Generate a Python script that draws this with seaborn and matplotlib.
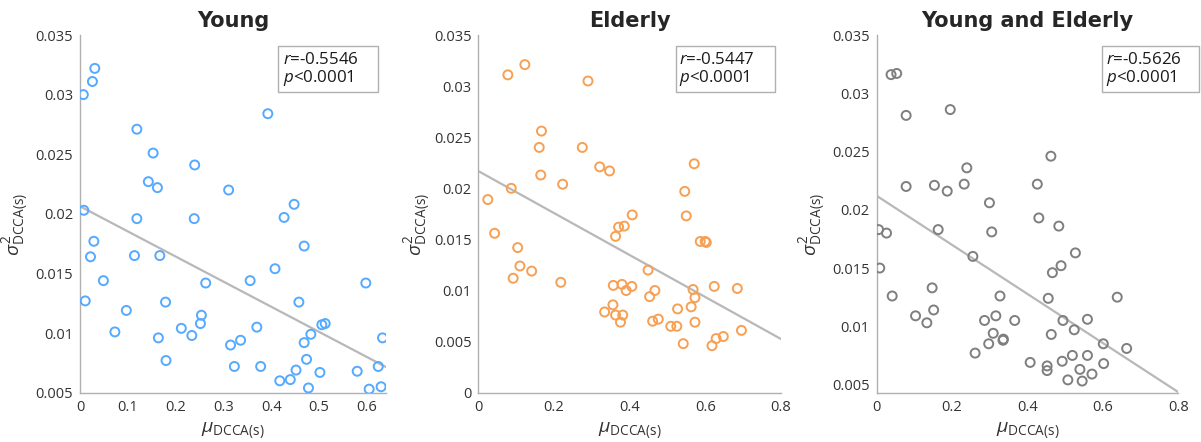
import numpy as np
import pandas as pd
import seaborn as sns
import matplotlib
matplotlib.use('Agg')
import matplotlib.pyplot as plt
from matplotlib.patches import Rectangle

# Values
young_mu = [0.007, 0.026, 0.031, 0.119, 0.153, 0.143, 0.162, 0.240, 0.311, 0.393,
            0.448, 0.008, 0.119, 0.239, 0.427, 0.029, 0.022, 0.114, 0.167, 0.469,
            0.049, 0.408, 0.356, 0.263, 0.598, 0.011, 0.179, 0.458, 0.097, 0.254,
            0.252, 0.212, 0.370, 0.506, 0.513, 0.073, 0.234, 0.164, 0.483, 0.633,
            0.315, 0.336, 0.469, 0.180, 0.323, 0.378, 0.474, 0.452, 0.502, 0.580,
            0.624, 0.418, 0.440, 0.478, 0.605, 0.630]
young_sig = [0.0300, 0.0311, 0.0322, 0.0271, 0.0251, 0.0227, 0.0222, 0.0241, 0.0220, 0.0284,
             0.0208, 0.0203, 0.0196, 0.0196, 0.0197, 0.0177, 0.0164, 0.0165, 0.0165, 0.0173,
             0.0144, 0.0154, 0.0144, 0.0142, 0.0142, 0.0127, 0.0126, 0.0126, 0.0119, 0.0115,
             0.0108, 0.0104, 0.0105, 0.0107, 0.0108, 0.0101, 0.0098, 0.0096, 0.0099, 0.0096,
             0.0090, 0.0094, 0.0092, 0.0077, 0.0072, 0.0072, 0.0078, 0.0069, 0.0067, 0.0068,
             0.0072, 0.0060, 0.0061, 0.0054, 0.0053, 0.0055]

elderly_mu = [0.078, 0.123, 0.290, 0.167, 0.161, 0.275, 0.321, 0.347, 0.571, 0.165,
              0.223, 0.087, 0.546, 0.025, 0.407, 0.550, 0.043, 0.371, 0.386, 0.363,
              0.587, 0.600, 0.603, 0.104, 0.110, 0.141, 0.092, 0.218, 0.449, 0.357,
              0.380, 0.406, 0.391, 0.467, 0.568, 0.624, 0.685, 0.453, 0.573, 0.356,
              0.563, 0.527, 0.334, 0.363, 0.382, 0.376, 0.476, 0.461, 0.573, 0.509,
              0.525, 0.696, 0.648, 0.629, 0.542, 0.618]
elderly_sig = [0.0311, 0.0321, 0.0305, 0.0256, 0.0240, 0.0240, 0.0221, 0.0217, 0.0224, 0.0213,
               0.0204, 0.0200, 0.0197, 0.0189, 0.0174, 0.0173, 0.0156, 0.0162, 0.0163, 0.0153,
               0.0148, 0.0148, 0.0147, 0.0142, 0.0124, 0.0119, 0.0112, 0.0108, 0.0120, 0.0105,
               0.0106, 0.0104, 0.0100, 0.0100, 0.0101, 0.0104, 0.0102, 0.0094, 0.0093, 0.0086,
               0.0084, 0.0082, 0.0079, 0.0076, 0.0076, 0.0069, 0.0072, 0.0070, 0.0069, 0.0065,
               0.0065, 0.0061, 0.0055, 0.0053, 0.0048, 0.0046]

both_mu = [0.038, 0.053, 0.078, 0.195, 0.462, 0.239, 0.078, 0.153, 0.187, 0.232,
           0.426, 0.299, 0.430, 0.483, 0.005, 0.026, 0.163, 0.305, 0.527, 0.255,
           0.008, 0.489, 0.466, 0.147, 0.041, 0.327, 0.455, 0.638, 0.151, 0.103,
           0.316, 0.133, 0.286, 0.366, 0.494, 0.559, 0.524, 0.309, 0.463, 0.335,
           0.336, 0.297, 0.601, 0.663, 0.261, 0.519, 0.559, 0.407, 0.492, 0.602,
           0.452, 0.452, 0.539, 0.571, 0.507, 0.545]
both_sig = [0.0316, 0.0317, 0.0281, 0.0286, 0.0246, 0.0236, 0.0220, 0.0221, 0.0216, 0.0222,
            0.0222, 0.0206, 0.0193, 0.0186, 0.0183, 0.0180, 0.0183, 0.0181, 0.0163, 0.0160,
            0.0150, 0.0152, 0.0146, 0.0133, 0.0126, 0.0126, 0.0124, 0.0125, 0.0114, 0.0109,
            0.0109, 0.0103, 0.0105, 0.0105, 0.0105, 0.0106, 0.0097, 0.0094, 0.0093, 0.0088,
            0.0089, 0.0085, 0.0085, 0.0081, 0.0077, 0.0075, 0.0075, 0.0069, 0.0070, 0.0068,
            0.0066, 0.0062, 0.0063, 0.0059, 0.0054, 0.0053]

titles = ['Young', 'Elderly', 'Young and Elderly']
r_vals = ['-0.5546', '-0.5447', '-0.5626']
colors = ['#55aaff', '#f7a053', '#7f7f7f']
x_lims = [(0, 0.64), (0, 0.8), (0, 0.8)]
y_lims = [(0.005, 0.035), (0, 0.035), (0.0043, 0.035)]
x_ticks = [[0, 0.1, 0.2, 0.3, 0.4, 0.5, 0.6], [0, 0.2, 0.4, 0.6, 0.8], [0, 0.2, 0.4, 0.6, 0.8]]
y_ticks = [[0.005, 0.01, 0.015, 0.02, 0.025, 0.03, 0.035],
           [0, 0.005, 0.01, 0.015, 0.02, 0.025, 0.03, 0.035],
           [0.005, 0.01, 0.015, 0.02, 0.025, 0.03, 0.035]]

groups = [(young_mu, young_sig), (elderly_mu, elderly_sig), (both_mu, both_sig)]

sns.set_style('white')
plt.rcParams['font.family'] = ['Open Sans', 'DejaVu Sans']
plt.rcParams['mathtext.fontset'] = 'custom'
plt.rcParams['mathtext.rm'] = 'Open Sans'
plt.rcParams['mathtext.it'] = 'Open Sans:italic'

fig = plt.figure(figsize=(12.01, 4.42), dpi=100)
lefts = [0.0666, 0.3983, 0.730]
widths = [0.2547, 0.2518, 0.2511]
# annotation box placement (axes fraction): left, right, text start
box_pos = [(0.647, 0.974, 0.663), (0.653, 0.981, 0.665), (0.746, 1.069, 0.759)]

for i, (mu, sig) in enumerate(groups):
    ax = fig.add_axes([lefts[i], 0.1115, widths[i], 0.8093])
    df = pd.DataFrame({'mu': mu, 'sig': sig})
    ax.set_xlim(*x_lims[i])
    ax.set_ylim(*y_lims[i])
    sns.regplot(data=df, x='mu', y='sig', ax=ax, scatter=False, ci=None, truncate=False,
                line_kws={'color': '#b8b8b8', 'lw': 1.6})
    sns.scatterplot(data=df, x='mu', y='sig', ax=ax, marker='o', s=42,
                    facecolors='none', edgecolor=colors[i], linewidth=1.4, zorder=3)
    ax.set_xlim(*x_lims[i])
    ax.set_ylim(*y_lims[i])
    ax.set_xticks(x_ticks[i])
    ax.set_xticklabels([f'{v:g}' for v in x_ticks[i]])
    ax.set_yticks(y_ticks[i])
    ax.set_yticklabels([f'{v:g}' for v in y_ticks[i]])
    sns.despine(ax=ax)
    for side in ['left', 'bottom']:
        ax.spines[side].set_color('#b0b0b0')
        ax.spines[side].set_linewidth(1.0)
    ax.tick_params(direction='in', length=3, width=0.8, color='#b0b0b0',
                   labelcolor='#333333', labelsize=10.5, pad=5)
    ax.set_title(titles[i], fontsize=15, fontweight='bold', family='DejaVu Sans', pad=6)
    ax.set_xlabel(r'$\mu_{\mathrm{DCCA(s)}}$', fontsize=14, color='#333333', labelpad=4)
    ax.set_ylabel(r'$\sigma^{2}_{\mathrm{DCCA(s)}}$', fontsize=14, color='#333333', labelpad=2)
    ax.yaxis.set_label_coords(-0.15 if i == 1 else -0.16, 0.47)

    bl, br, tx = box_pos[i]
    ax.add_patch(Rectangle((bl, 0.841), br - bl, 0.128, transform=ax.transAxes,
                           facecolor='white', edgecolor='#b0b0b0', lw=1.0,
                           clip_on=False, zorder=4))
    ax.text(tx, 0.952, f'$r$=' + r_vals[i] + '\n' + '$p$<0.0001',
            transform=ax.transAxes, ha='left', va='top', fontsize=12.2, color='#1a1a1a',
            linespacing=1.0, zorder=5)

plt.savefig('out.png', dpi=100)
